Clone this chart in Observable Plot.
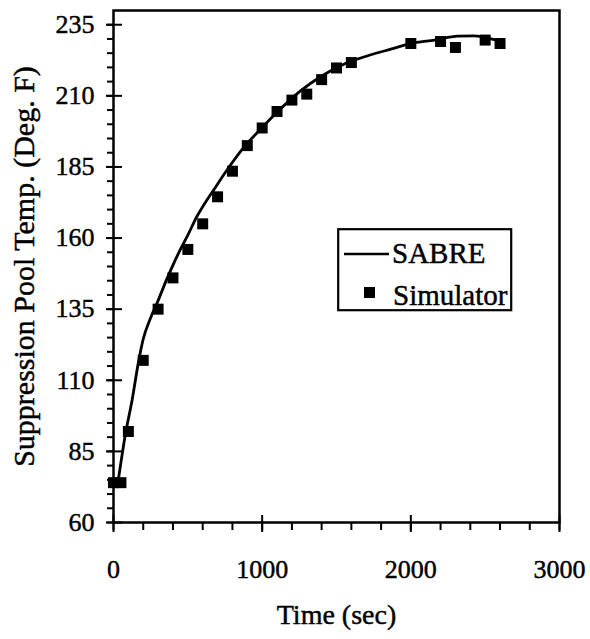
<!DOCTYPE html>
<html>
<head>
<meta charset="utf-8">
<script src="https://cdn.jsdelivr.net/npm/d3@7"></script>
<script src="https://cdn.jsdelivr.net/npm/@observablehq/plot@0.6"></script>
<style>
  body { margin: 0; background: #fff; }
  #chart { position: relative; width: 590px; height: 639px; }
  #chart svg, #chart svg text { font-family: 'Liberation Serif', Tinos, 'Times New Roman', Times, 'DejaVu Serif', 'Noto Serif', serif !important; }
  #chart svg text { stroke: #000; stroke-width: 0.45px; }
  #legend { position: absolute; left: 337px; top: 228px; }
</style>
</head>
<body>
<div id="chart"></div>
<script>
// Simulator readings (time in s, pool temperature in deg F)
const simTime = [0, 50, 100, 200, 300, 400, 500, 600, 700, 800, 900, 1000, 1100, 1200, 1300, 1400, 1500, 1600, 2000, 2200, 2300, 2500, 2600];
const simTemp = [74, 74, 92, 117, 135, 146, 156, 165, 174.5, 183.5, 192.5, 198.7, 204.5, 208.5, 210.6, 215.7, 219.8, 221.7, 228.4, 229.1, 227, 229.6, 228.4];

// SABRE calculation
const sabreTime = [30, 80, 125, 170, 200, 250, 300, 350, 400, 450, 500, 560, 600, 675, 775, 875, 990, 1100, 1260, 1395, 1575, 1710, 1865, 2020, 2160, 2315, 2430, 2560, 2610];
const sabreTemp = [74, 91, 103, 117, 124.5, 132, 138, 144.5, 150.5, 156, 161, 167.5, 171, 177, 184.8, 191.8, 198.3, 204.2, 211.8, 216.8, 221.7, 224.1, 226.4, 228.6, 229.6, 231, 231.1, 229.8, 229.4];

const seriesNames = ["SABRE", "Simulator"];

// Axis ticks
const xTicks = [0, 1000, 2000, 3000];
const yTicks = [60, 85, 110, 135, 160, 185, 210, 235];
const xMinor = d3.range(0, 3001, 200);
const yMinor = d3.range(60, 236, 5);

const sim = simTime.map((t, i) => ({t, temp: simTemp[i]}));
const sabre = sabreTime.map((t, i) => ({t, temp: sabreTemp[i]}));

const blank = () => "";
const plain = d => String(d);

const chart = Plot.plot({
  width: 590,
  height: 639,
  marginLeft: 113,
  marginRight: 31,
  marginTop: 10,
  marginBottom: 117,
  style: {fontSize: "26px", color: "#000", background: "#fff"},
  x: {domain: [0, 3000], label: null},
  y: {domain: [60, 240], label: null},
  marks: [
    Plot.frame({stroke: "#000", strokeWidth: 2.5}),
    // minor ticks, outward
    Plot.axisX(xMinor, {tickSize: 8, strokeWidth: 2, tickFormat: blank}),
    Plot.axisY(yMinor, {tickSize: 6, strokeWidth: 2, tickFormat: blank}),
    // major ticks crossing the axis, with labels
    Plot.axisX(xTicks, {tickSize: 10, strokeWidth: 2, tickPadding: 27, fontSize: 26, tickFormat: plain}),
    Plot.axisX(xTicks, {tickSize: -7, strokeWidth: 2, tickFormat: blank}),
    Plot.axisY(yTicks, {tickSize: 7, strokeWidth: 2, tickPadding: 12, fontSize: 26, tickFormat: plain}),
    Plot.axisY(yTicks, {tickSize: -9, strokeWidth: 2, tickFormat: blank}),
    // series
    Plot.line(sabre, {x: "t", y: "temp", stroke: "#000", strokeWidth: 2.8, curve: "monotone-x"}),
    Plot.dot(sim, {x: "t", y: "temp", symbol: "square", r: 6.2, fill: "#000", stroke: "none"}),
    // axis titles
    Plot.text(["Suppression Pool Temp. (Deg. F)"], {text: d => d, frameAnchor: "left", rotate: -90, dx: -89, textAnchor: "middle", lineAnchor: "middle", fontSize: 30}),
    Plot.text(["Time (sec)"], {text: d => d, frameAnchor: "bottom", dy: 93, textAnchor: "middle", lineAnchor: "middle", fontSize: 28})
  ]
});

const root = document.getElementById("chart");
root.appendChild(chart);

// Legend box inside the plot area
const lg = d3.select(root).append("svg")
  .attr("id", "legend")
  .attr("width", 180)
  .attr("height", 90);
lg.append("rect").attr("x", 1.2).attr("y", 1.2).attr("width", 173).attr("height", 81)
  .attr("fill", "#fff").attr("stroke", "#000").attr("stroke-width", 2.2);
lg.append("line").attr("x1", 7).attr("x2", 52).attr("y1", 26).attr("y2", 26)
  .attr("stroke", "#000").attr("stroke-width", 2.5);
lg.append("text").attr("x", 55).attr("y", 35).attr("font-size", 29).text(seriesNames[0]);
lg.append("rect").attr("x", 27).attr("y", 59).attr("width", 11).attr("height", 11).attr("fill", "#000");
lg.append("text").attr("x", 56).attr("y", 77).attr("font-size", 29).text(seriesNames[1]);
</script>
</body>
</html>
